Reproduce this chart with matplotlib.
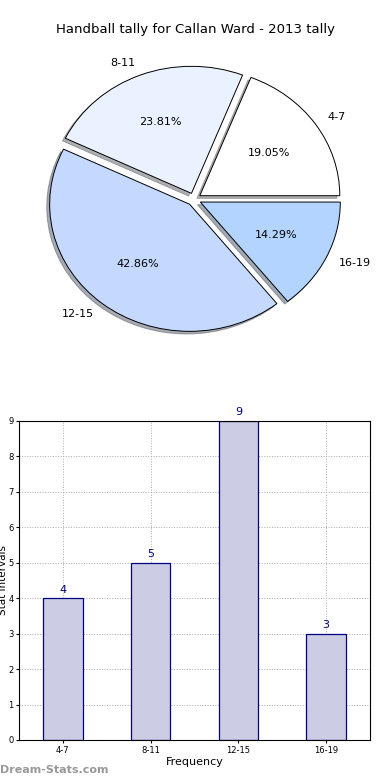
import matplotlib
matplotlib.use("Agg")
import matplotlib.pyplot as plt

# DATA
CATEGORIES = ["4-7", "8-11", "12-15", "16-19"]
COUNTS = [4, 5, 9, 3]
SLICE_COLORS = ["#ffffff", "#eaf1ff", "#c5d9ff", "#b3d4ff"]
TITLE = "Handball tally for Callan Ward - 2013 tally"

BAR_FACE = "#ccccE4"
BAR_EDGE = "#000080"

fig = plt.figure(figsize=(3.9, 7.8), dpi=100)

# PIE
ax_pie = fig.add_axes([0.0667, 0.549, 0.8615, 0.391])
ax_pie.pie(COUNTS,
           labels=CATEGORIES,
           colors=SLICE_COLORS,
           explode=[0.05] * len(COUNTS),
           autopct="%.2f%%",
           shadow=dict(ox=-0.015, oy=-0.015, shade=0.6),
           startangle=0,
           wedgeprops=dict(edgecolor="black", linewidth=0.7),
           textprops=dict(fontsize=8))
ax_pie.set_aspect("auto")
ax_pie.set_xlim(-1.2, 1.2)
ax_pie.set_ylim(-1.2, 1.2)
ax_pie.axis("off")

fig.text(0.5, 1 - 30 / 780, TITLE, ha="center", va="center", fontsize=9.5)

###################################################################
# BARS
ax_bar = fig.add_axes([0.0487, 0.0513, 0.9, 0.409])
x = range(len(CATEGORIES))
ax_bar.bar(x, COUNTS, width=0.45, color=BAR_FACE, edgecolor=BAR_EDGE,
           linewidth=0.9, zorder=2)
for xi, v in zip(x, COUNTS):
	ax_bar.text(xi, v + 0.1, str(v), ha="center", va="bottom",
	            color=BAR_EDGE, fontsize=8)

ax_bar.set(xlim=(-0.5, 3.5), ylim=(0, 9))
ax_bar.set_xticks(list(x))
ax_bar.set_xticklabels(CATEGORIES)
ax_bar.set_yticks(range(0, 10))
ax_bar.tick_params(labelsize=6, length=2, pad=2)
ax_bar.grid(True, ls=":", color="#aaaaaa", lw=0.7, zorder=0)
ax_bar.set_axisbelow(True)
ax_bar.set_xlabel("Frequency", fontsize=8, labelpad=2)
ax_bar.set_ylabel("Stat Intervals", fontsize=7.5)
ax_bar.yaxis.set_label_coords(-0.03, 0.5)

fig.text(0.0, 1 - 770 / 780, "Dream-Stats.com", ha="left", va="center",
         color="#999999", fontsize=8, fontweight="bold")

plt.savefig("out.png", dpi=100)
plt.close()
